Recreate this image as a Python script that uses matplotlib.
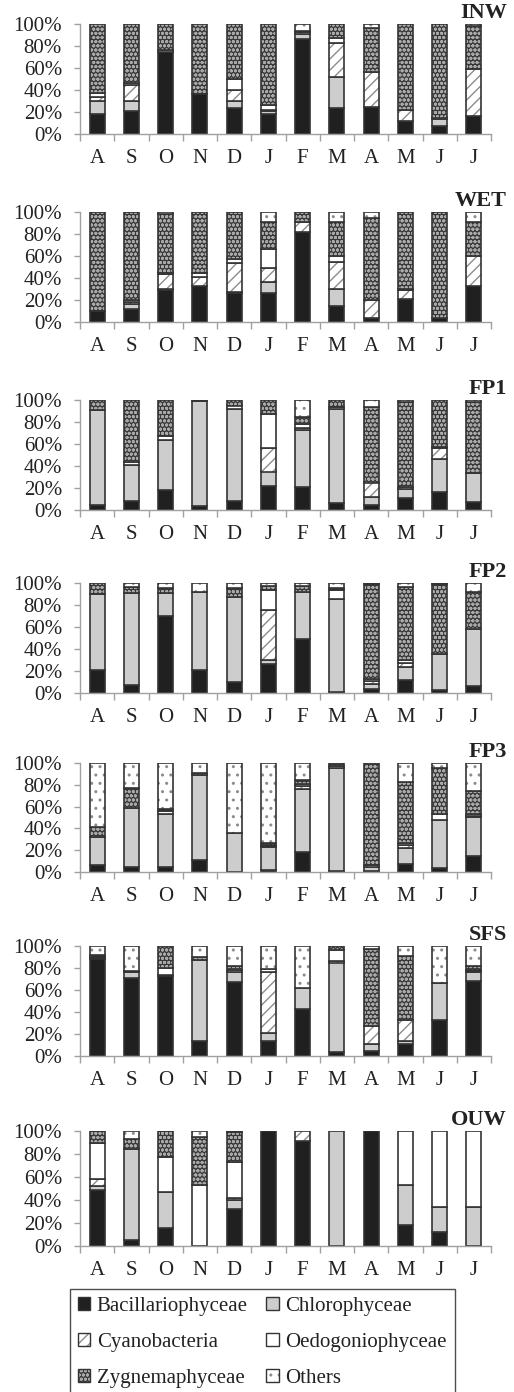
import matplotlib
matplotlib.use('Agg')
import matplotlib.pyplot as plt
import matplotlib.colors as mcolors
from matplotlib.patches import Patch
from matplotlib.ticker import FixedLocator, PercentFormatter
import numpy as np

months = ['A', 'S', 'O', 'N', 'D', 'J', 'F', 'M', 'A', 'M', 'J', 'J']
groups = ['Bacillariophyceae', 'Chlorophyceae', 'Cyanobacteria',
          'Oedogoniophyceae', 'Zygnemaphyceae', 'Others']
sites = ['INW', 'WET', 'FP1', 'FP2', 'FP3', 'SFS', 'OUW']

# each row = one month: Bac, Chl, Cya, Oed, Zyg, Others (%)
INW = [[18, 12, 4, 3, 63, 0], [21, 9, 15, 1, 54, 0], [75, 0, 0, 1, 24, 0],
       [36, 0, 0, 0, 64, 0], [24, 6, 10, 10, 50, 0], [18, 3, 1, 4, 74, 0],
       [86, 5, 2, 0, 1, 6], [24, 28, 31, 4, 13, 0], [25, 0, 31, 0, 40, 4],
       [12, 0, 10, 0, 78, 0], [7, 7, 0, 1, 85, 0], [16, 0, 43, 0, 39, 2]]
WET = [[10, 0, 0, 0, 90, 0], [12, 4, 2, 2, 80, 0], [29, 1, 14, 1, 53, 2],
       [33, 0, 8, 4, 55, 0], [26, 1, 27, 3, 43, 0], [26, 10, 13, 17, 25, 9],
       [82, 0, 9, 0, 9, 0], [15, 15, 25, 5, 31, 9], [4, 0, 16, 0, 75, 5],
       [21, 0, 8, 1, 70, 0], [4, 0, 0, 0, 96, 0], [33, 0, 27, 0, 31, 9]]
FP1 = [[5, 86, 0, 0, 9, 0], [8, 33, 0, 3, 56, 0], [18, 46, 0, 3, 33, 0],
       [4, 95, 0, 0, 1, 0], [8, 84, 0, 3, 5, 0], [22, 13, 21, 31, 13, 0],
       [21, 52, 2, 3, 7, 15], [6, 86, 0, 2, 6, 0], [5, 7, 13, 0, 69, 6],
       [11, 8, 2, 0, 77, 2], [16, 30, 10, 1, 43, 0], [7, 27, 0, 0, 64, 2]]
FP2 = [[21, 69, 0, 0, 10, 0], [7, 84, 0, 0, 5, 4], [70, 21, 0, 0, 4, 5],
       [21, 71, 0, 0, 0, 8], [10, 77, 0, 0, 8, 5], [26, 4, 45, 19, 3, 3],
       [49, 43, 0, 0, 5, 3], [1, 84, 0, 9, 1, 5], [4, 4, 3, 2, 86, 1],
       [12, 12, 3, 3, 66, 4], [3, 32, 0, 0, 64, 1], [6, 52, 0, 0, 34, 8]]
FP3 = [[6, 26, 0, 0, 9, 59], [5, 54, 0, 0, 18, 23], [5, 48, 0, 3, 2, 42],
       [11, 78, 0, 0, 2, 9], [0, 36, 0, 0, 0, 64], [2, 21, 1, 1, 2, 73],
       [18, 58, 3, 2, 3, 16], [1, 94, 0, 2, 3, 0], [1, 4, 1, 0, 94, 0],
       [7, 15, 3, 2, 56, 17], [4, 44, 0, 5, 42, 5], [15, 35, 1, 2, 21, 26]]
SFS = [[88, 1, 0, 1, 2, 8], [71, 5, 0, 1, 0, 23], [73, 1, 0, 6, 20, 0],
       [14, 73, 0, 0, 3, 10], [67, 9, 0, 2, 4, 18], [14, 7, 55, 3, 0, 21],
       [43, 19, 0, 0, 0, 38], [4, 81, 1, 10, 4, 0], [5, 6, 16, 0, 70, 3],
       [11, 3, 19, 0, 58, 9], [33, 33, 0, 0, 0, 34], [68, 8, 1, 1, 4, 18]]
OUW = [[49, 3, 6, 32, 10, 0], [5, 79, 0, 0, 9, 7], [16, 31, 0, 30, 23, 0],
       [0, 0, 0, 53, 42, 5], [32, 8, 2, 31, 26, 1], [100, 0, 0, 0, 0, 0],
       [91, 0, 9, 0, 0, 0], [0, 100, 0, 0, 0, 0], [100, 0, 0, 0, 0, 0],
       [18, 35, 0, 47, 0, 0], [12, 22, 0, 66, 0, 0], [0, 34, 0, 66, 0, 0]]

site_data = [INW, WET, FP1, FP2, FP3, SFS, OUW]

# styles: face colour, hatch, hatch colour
styles = [
    ('#202020', None, None),
    ('#cdcdcd', None, None),
    ('#ffffff', '///', '#8c8c8c'),
    ('#ffffff', None, None),
    ('#383838', 'oooo', '#a8a8a8'),
    ('#ffffff', '..', '#8c8c8c'),
]
EDGE = '#333333'

plt.rcParams['font.family'] = ['Liberation Serif', 'DejaVu Serif']
plt.rcParams['hatch.linewidth'] = 1.0

W, H = 514, 1392
fig = plt.figure(figsize=(W / 100, H / 100), dpi=100)

# pixel rows of 100% and 0% lines for each panel
panel_px = [(24, 134), (212, 322), (400, 510), (583, 693),
            (763, 872), (946, 1056), (1131, 1246)]
x_left, x_right = 80, 491
FS = 15

x = np.arange(len(months))
for site, data, (ytop, ybot) in zip(sites, site_data, panel_px):
    ax = fig.add_axes([x_left / W, 1 - ybot / H, (x_right - x_left) / W, (ybot - ytop) / H])
    arr = np.array(data, dtype=float).T
    bottom = np.zeros(len(months))
    for gi, (face, hatch, hcol) in enumerate(styles):
        vals = arr[gi]
        mask = vals > 0
        bars = ax.bar(x[mask], vals[mask], bottom=bottom[mask], width=0.44,
                      color=face, edgecolor=EDGE, linewidth=1.2, hatch=hatch, zorder=2)
        if hcol is not None:
            for b in bars:
                b._hatch_color = mcolors.to_rgba(hcol)
        bottom += vals
    ax.set_xlim(-0.5, len(months) - 0.5)
    ax.set_ylim(0, 100)
    ax.yaxis.set_major_locator(FixedLocator([0, 20, 40, 60, 80, 100]))
    ax.yaxis.set_major_formatter(PercentFormatter(decimals=0))
    ax.set_xticks(x)
    ax.set_xticklabels(months)
    ax.xaxis.set_minor_locator(FixedLocator(np.arange(-0.5, len(months), 1.0)))
    ax.tick_params(axis='x', which='major', length=0, pad=11, labelsize=FS, colors='#222222')
    ax.tick_params(axis='x', which='minor', length=5, width=1, color='#a0a0a0', direction='out')
    ax.tick_params(axis='y', which='major', length=4, width=1, color='#a0a0a0',
                   pad=9, labelsize=FS, labelcolor='#222222')
    for s in ['top', 'right']:
        ax.spines[s].set_visible(False)
    for s in ['left', 'bottom']:
        ax.spines[s].set_color('#a0a0a0')
        ax.spines[s].set_linewidth(1.0)
    fig.text(507 / W, 1 - (ytop - 11) / H, site, ha='right', va='center',
             fontsize=16, fontweight='bold', color='#222222')

handles = {}
for (face, hatch, hcol), g in zip(styles, groups):
    handles[g] = Patch(facecolor=face, edgecolor=EDGE, linewidth=1.0, hatch=hatch, label=g)

# legend fills row-wise in the reference
leg_order = ['Bacillariophyceae', 'Cyanobacteria', 'Zygnemaphyceae',
             'Chlorophyceae', 'Oedogoniophyceae', 'Others']
leg = fig.legend(handles=[handles[g] for g in leg_order], ncol=2, loc='upper left',
                 bbox_to_anchor=(70 / W, 1 - 1289 / H), frameon=True, fancybox=False,
                 edgecolor='#222222', fontsize=15, handlelength=0.6, handleheight=0.6,
                 handletextpad=0.3, columnspacing=0.9, labelspacing=0.82,
                 borderpad=0.38, borderaxespad=0)
leg.get_frame().set_linewidth(1.0)
style_of = dict(zip(groups, styles))
for p, g in zip(leg.get_patches(), leg_order):
    hcol = style_of[g][2]
    if hcol is not None:
        p._hatch_color = mcolors.to_rgba(hcol)
for t in leg.get_texts():
    t.set_color('#222222')

fig.savefig('out.png', dpi=100)
